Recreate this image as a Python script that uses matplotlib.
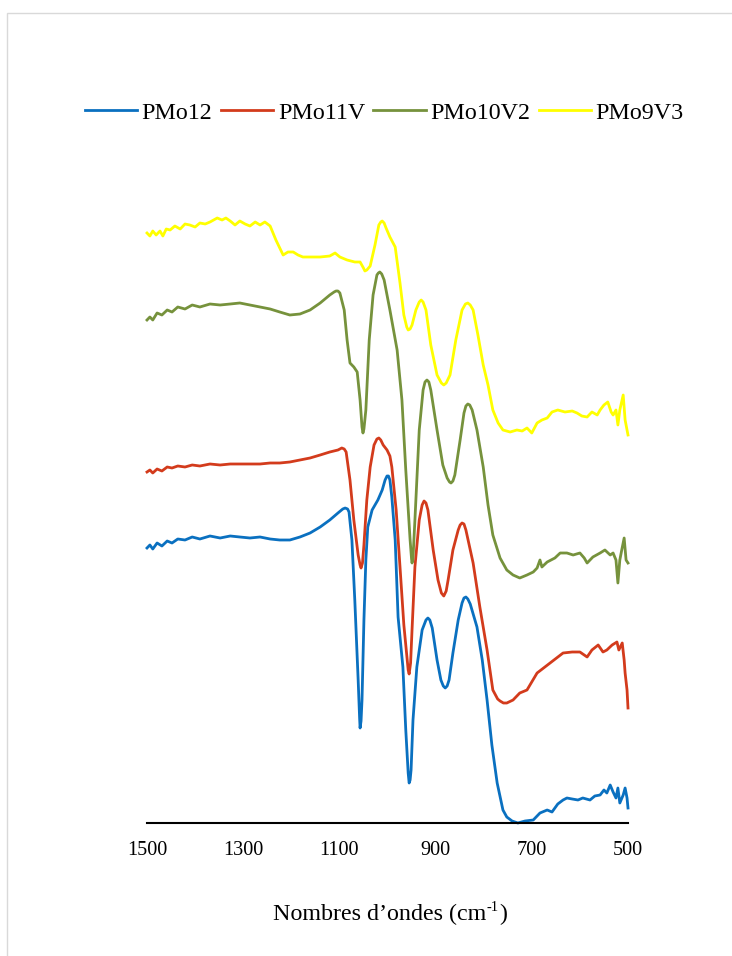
import matplotlib
matplotlib.use("Agg")
import matplotlib.pyplot as plt
from matplotlib.patches import Rectangle

plt.rcParams['font.family'] = 'Liberation Serif'

# Spectres IR (transmittance, unites arbitraires, courbes decalees)
wn_pmo12 = [1500, 1494, 1488, 1479, 1469, 1458, 1448, 1436, 1421, 1406, 1390, 1369, 1348,
            1327, 1307, 1286, 1265, 1244, 1224, 1203, 1182, 1161, 1140, 1120, 1103, 1093,
            1088, 1083, 1080, 1074, 1068, 1061, 1058, 1057, 1055, 1053, 1049, 1045, 1041,
            1032, 1020, 1011, 1005, 1001, 998, 995, 991, 984, 978, 968, 962, 957, 955, 953,
            951, 947, 939, 928, 920, 916, 912, 907, 897, 889, 884, 880, 876, 872, 864, 853,
            845, 841, 837, 833, 828, 814, 803, 793, 783, 772, 760, 752, 741, 729, 714, 697,
            683, 668, 658, 646, 635, 627, 616, 604, 594, 579, 569, 558, 550, 544, 537, 531,
            525, 521, 517, 510, 506, 502, 500]
t_pmo12 = [27.5, 27.8, 27.4, 28.0, 27.7, 28.2, 28.0, 28.4, 28.3, 28.6, 28.4, 28.7, 28.5,
           28.7, 28.6, 28.5, 28.6, 28.4, 28.3, 28.3, 28.6, 29.0, 29.6, 30.3, 31.0, 31.4,
           31.5, 31.4, 31.1, 28.3, 22.3, 14.3, 10.5, 9.5, 10.2, 12.3, 20.3, 26.3, 29.6,
           31.3, 32.3, 33.3, 34.3, 34.7, 34.7, 34.3, 32.6, 28.3, 20.6, 15.6, 9.3, 5.0, 4.0,
           4.3, 5.3, 10.3, 15.6, 19.3, 20.3, 20.5, 20.3, 19.5, 16.3, 14.3, 13.7, 13.5, 13.7,
           14.3, 17.0, 20.3, 22.0, 22.5, 22.6, 22.4, 21.9, 19.6, 16.3, 12.3, 7.8, 4.0, 1.3,
           0.6, 0.2, 0.0, 0.2, 0.3, 1.0, 1.3, 1.1, 1.9, 2.3, 2.5, 2.4, 2.3, 2.5, 2.3, 2.7,
           2.8, 3.3, 3.0, 3.8, 3.1, 2.5, 3.5, 2.0, 2.8, 3.5, 2.5, 1.5]

wn_pmo11v = [1500, 1494, 1488, 1479, 1469, 1458, 1448, 1436, 1421, 1406, 1390, 1369, 1348,
             1327, 1307, 1286, 1265, 1244, 1224, 1203, 1182, 1161, 1140, 1120, 1103, 1095,
             1090, 1086, 1078, 1070, 1061, 1057, 1055, 1052, 1049, 1043, 1036, 1028, 1022,
             1018, 1014, 1009, 1001, 995, 991, 982, 974, 966, 959, 957, 955, 952, 949, 943,
             934, 928, 924, 920, 916, 905, 895, 888, 883, 878, 874, 864, 853, 849, 845, 841,
             837, 822, 808, 793, 781, 771, 766, 759, 752, 739, 725, 710, 689, 662, 635, 616,
             600, 585, 575, 562, 552, 544, 533, 523, 519, 512, 508, 506, 502, 500]
t_pmo11v = [35.1, 35.3, 35.0, 35.4, 35.2, 35.6, 35.5, 35.7, 35.6, 35.8, 35.7, 35.9, 35.8,
            35.9, 35.9, 35.9, 35.9, 36.0, 36.0, 36.1, 36.3, 36.5, 36.8, 37.1, 37.3, 37.5,
            37.4, 37.1, 34.3, 30.3, 26.8, 25.8, 25.5, 26.0, 27.8, 32.3, 35.6, 37.8, 38.4,
            38.5, 38.3, 37.8, 37.3, 36.7, 35.6, 31.3, 25.6, 19.8, 16.3, 15.3, 14.9, 16.0,
            19.3, 25.6, 30.3, 31.8, 32.2, 32.0, 31.3, 27.3, 24.3, 23.0, 22.7, 23.2, 24.3,
            27.3, 29.3, 29.8, 30.0, 29.9, 29.3, 26.0, 21.6, 17.3, 13.3, 12.4, 12.2, 12.0,
            12.0, 12.3, 13.0, 13.3, 15.0, 16.0, 17.0, 17.1, 17.1, 16.6, 17.3, 17.8, 17.1,
            17.3, 17.8, 18.1, 17.3, 18.0, 16.3, 15.0, 13.3, 11.5]

wn_pmo10v2 = [1500, 1494, 1488, 1479, 1469, 1458, 1448, 1436, 1421, 1406, 1390, 1369, 1348,
              1327, 1307, 1286, 1265, 1244, 1224, 1203, 1182, 1161, 1140, 1120, 1111, 1107,
              1103, 1099, 1090, 1084, 1078, 1070, 1063, 1057, 1053, 1051, 1049, 1045, 1038,
              1030, 1022, 1019, 1016, 1012, 1007, 995, 980, 970, 962, 953, 950, 949, 947, 943,
              934, 926, 922, 918, 914, 910, 897, 885, 876, 871, 868, 864, 860, 849, 841, 837,
              833, 829, 824, 814, 801, 791, 781, 766, 752, 739, 725, 710, 697, 689, 683, 679,
              668, 652, 641, 627, 614, 600, 591, 585, 573, 558, 548, 537, 531, 525, 521, 517,
              513, 508, 504, 500]
t_pmo10v2 = [50.3, 50.6, 50.3, 51.0, 50.8, 51.3, 51.1, 51.6, 51.4, 51.8, 51.6, 51.9, 51.8,
             51.9, 52.0, 51.8, 51.6, 51.4, 51.1, 50.8, 50.9, 51.3, 52.0, 52.8, 53.1, 53.2,
             53.2, 53.0, 51.3, 48.3, 46.0, 45.6, 45.1, 42.3, 39.6, 39.0, 39.4, 41.3, 48.3,
             52.8, 54.8, 55.0, 55.1, 54.9, 54.3, 51.3, 47.3, 42.3, 35.3, 28.3, 26.4, 26.0,
             26.5, 30.3, 39.3, 43.3, 44.1, 44.3, 44.1, 43.3, 39.3, 35.8, 34.5, 34.1, 34.0,
             34.2, 34.8, 38.3, 41.0, 41.7, 41.9, 41.8, 41.3, 39.3, 35.6, 31.8, 28.8, 26.5,
             25.3, 24.8, 24.5, 24.8, 25.1, 25.5, 26.3, 25.6, 26.1, 26.5, 27.0, 27.0, 26.8,
             27.0, 26.5, 26.0, 26.6, 27.0, 27.3, 26.8, 27.0, 26.3, 24.0, 26.3, 27.3, 28.5,
             26.3, 26.0]

wn_pmo9v3 = [1500, 1494, 1488, 1481, 1473, 1467, 1460, 1452, 1442, 1431, 1421, 1411, 1400,
             1390, 1379, 1369, 1354, 1344, 1336, 1327, 1317, 1307, 1296, 1286, 1275, 1265,
             1255, 1244, 1232, 1217, 1207, 1196, 1186, 1176, 1161, 1140, 1120, 1109, 1099,
             1084, 1068, 1057, 1050, 1047, 1043, 1036, 1026, 1018, 1014, 1011, 1007, 1003,
             995, 984, 974, 966, 960, 957, 953, 949, 941, 934, 930, 926, 920, 910, 897, 888,
             883, 878, 870, 858, 845, 838, 833, 828, 822, 812, 801, 791, 781, 770, 760, 745,
             731, 720, 710, 700, 689, 679, 668, 658, 646, 631, 616, 606, 596, 585, 575, 564,
             558, 550, 542, 535, 531, 525, 521, 517, 510, 506, 500]
t_pmo9v3 = [59.0, 58.7, 59.2, 58.8, 59.2, 58.7, 59.4, 59.3, 59.7, 59.4, 59.9, 59.8, 59.6,
            60.0, 59.9, 60.1, 60.5, 60.3, 60.5, 60.2, 59.8, 60.2, 59.9, 59.7, 60.1, 59.8,
            60.1, 59.7, 58.3, 56.8, 57.1, 57.1, 56.8, 56.6, 56.6, 56.6, 56.7, 57.0, 56.6,
            56.3, 56.1, 56.1, 55.5, 55.2, 55.3, 55.7, 57.8, 59.8, 60.1, 60.2, 60.0, 59.5,
            58.6, 57.6, 54.0, 50.8, 49.6, 49.3, 49.4, 49.8, 51.3, 52.1, 52.3, 52.1, 51.3,
            47.8, 44.8, 44.0, 43.8, 44.0, 44.8, 48.3, 51.3, 51.9, 52.0, 51.8, 51.3, 48.8,
            45.8, 43.8, 41.3, 40.0, 39.3, 39.1, 39.3, 39.2, 39.5, 39.0, 40.0, 40.3, 40.5,
            41.1, 41.3, 41.1, 41.2, 41.0, 40.7, 40.6, 41.1, 40.8, 41.3, 41.8, 42.1, 41.1,
            40.8, 41.3, 39.8, 41.3, 42.8, 40.3, 38.8]

labels = ['PMo12', 'PMo11V', 'PMo10V2', 'PMo9V3']
colors = ['#0a70c0', '#d33b1c', '#76923c', '#ffff00']
series = [(wn_pmo12, t_pmo12), (wn_pmo11v, t_pmo11v),
          (wn_pmo10v2, t_pmo10v2), (wn_pmo9v3, t_pmo9v3)]
ticks = [1500, 1300, 1100, 900, 700, 500]

W, H = 732, 956
fig = plt.figure(figsize=(W / 100, H / 100), dpi=100)
ax = fig.add_axes([147 / W, 1 - 823 / H, 481 / W, 673 / H])

for (x, y), lab, col in zip(series, labels, colors):
    ax.plot(x, y, color=col, lw=2.0, label=lab, clip_on=False,
            solid_joinstyle='round')

ax.set_xlim(1500, 500)
ax.set_ylim(0, 67.3)
ax.set_xticks(ticks)
ax.set_yticks([])
ax.tick_params(axis='x', length=0, pad=13, labelsize=14.6)
for s in ['left', 'right', 'top']:
    ax.spines[s].set_visible(False)
ax.spines['bottom'].set_color('#000000')
ax.spines['bottom'].set_linewidth(1.5)
ax.set_facecolor('none')

fig.legend(loc='center', bbox_to_anchor=(0.525, 0.882), ncol=4, frameon=False,
           handlelength=2.17, handletextpad=0.2, columnspacing=0.35,
           fontsize=17.3)

# titre de l'axe x : texte + exposant "-1" place a la main
renderer = fig.canvas.get_renderer()
base_y = 1 - 920 / H
parts = [('Nombres d\u2019ondes (cm', 17.3, 0.0),
         ('-1', 10.5, 9 / H),
         (')', 17.3, 0.0)]
txts = [fig.text(0, base_y + dy, s, fontsize=fs, ha='left', va='baseline')
        for s, fs, dy in parts]
widths = [t.get_window_extent(renderer).width for t in txts]
x0 = 390 - sum(widths) / 2
for t, w in zip(txts, widths):
    t.set_x(x0 / W)
    x0 += w

# cadre gris autour du graphique
fig.patches.append(Rectangle((7 / W, -0.02), 1.0, 1 - 13 / H + 0.02,
                             transform=fig.transFigure, fill=False,
                             edgecolor='#d9d9d9', lw=1.0))

fig.savefig('out.png', dpi=100)
